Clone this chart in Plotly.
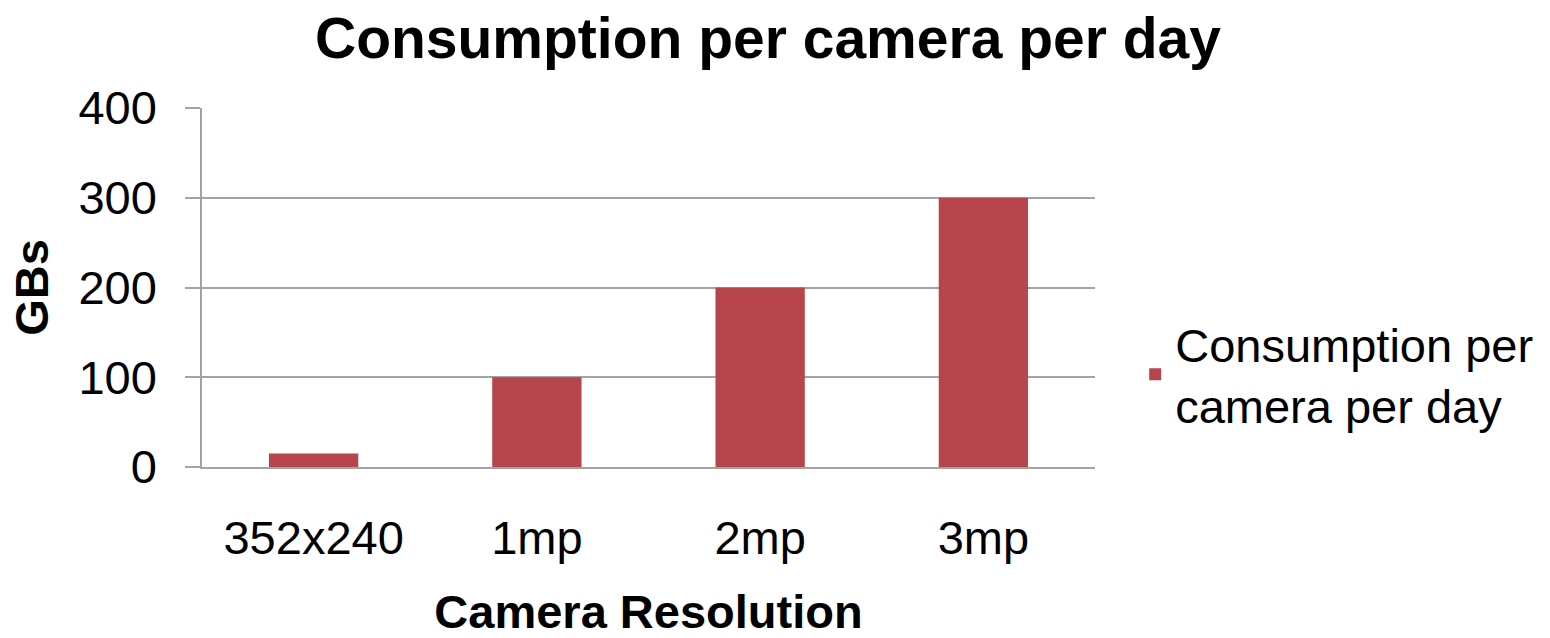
import plotly.graph_objects as go

categories = ["352x240", "1mp", "2mp", "3mp"]
values = [15, 100, 200, 300]
series_name = "Consumption per<br>camera per day"
y_ticks = [0, 100, 200, 300, 400]

BAR = "#B6464B"
GRID = "#A3A3A3"
FONT = "Liberation Sans, Arial, sans-serif"

W, H = 1550, 638

fig = go.Figure(
    go.Bar(x=categories, y=values, name=series_name, marker=dict(color=BAR, line=dict(width=0)),
           showlegend=True)
)

fig.update_layout(
    width=W, height=H,
    margin=dict(l=202, r=455, t=108, b=171),
    paper_bgcolor="white", plot_bgcolor="white",
    font=dict(family=FONT, size=47, color="black"),
    bargap=0.6,
    title=dict(text="<b>Consumption per camera per day</b>", x=768 / W, xanchor="center",
               y=1 - 38 / H, yanchor="middle", font=dict(size=57)),
    legend=dict(x=1.045, xanchor="left", y=0.257, yanchor="middle", font=dict(size=47),
                itemwidth=30, tracegroupgap=0),
)

fig.update_xaxes(
    showline=True, linecolor=GRID, linewidth=1.5, ticks="", showgrid=False,
    tickfont=dict(size=47), ticklabelstandoff=29, automargin=False,
    title=dict(text="<b>Camera Resolution</b>", font=dict(size=47), standoff=39),
)
fig.update_yaxes(
    range=[0, 400], tickvals=y_ticks, showgrid=True, gridcolor=GRID, gridwidth=1.5,
    showline=True, linecolor=GRID, linewidth=1.5, ticks="outside", ticklen=15,
    tickcolor=GRID, tickwidth=1.5, zeroline=False, tickfont=dict(size=47),
    ticklabelstandoff=19, automargin=False,
    title=dict(text="<b>GBs</b>", font=dict(size=47), standoff=15),
)

fig.write_html("out.html", config={"displayModeBar": False},
               post_script="document.body.style.margin='0px';")
